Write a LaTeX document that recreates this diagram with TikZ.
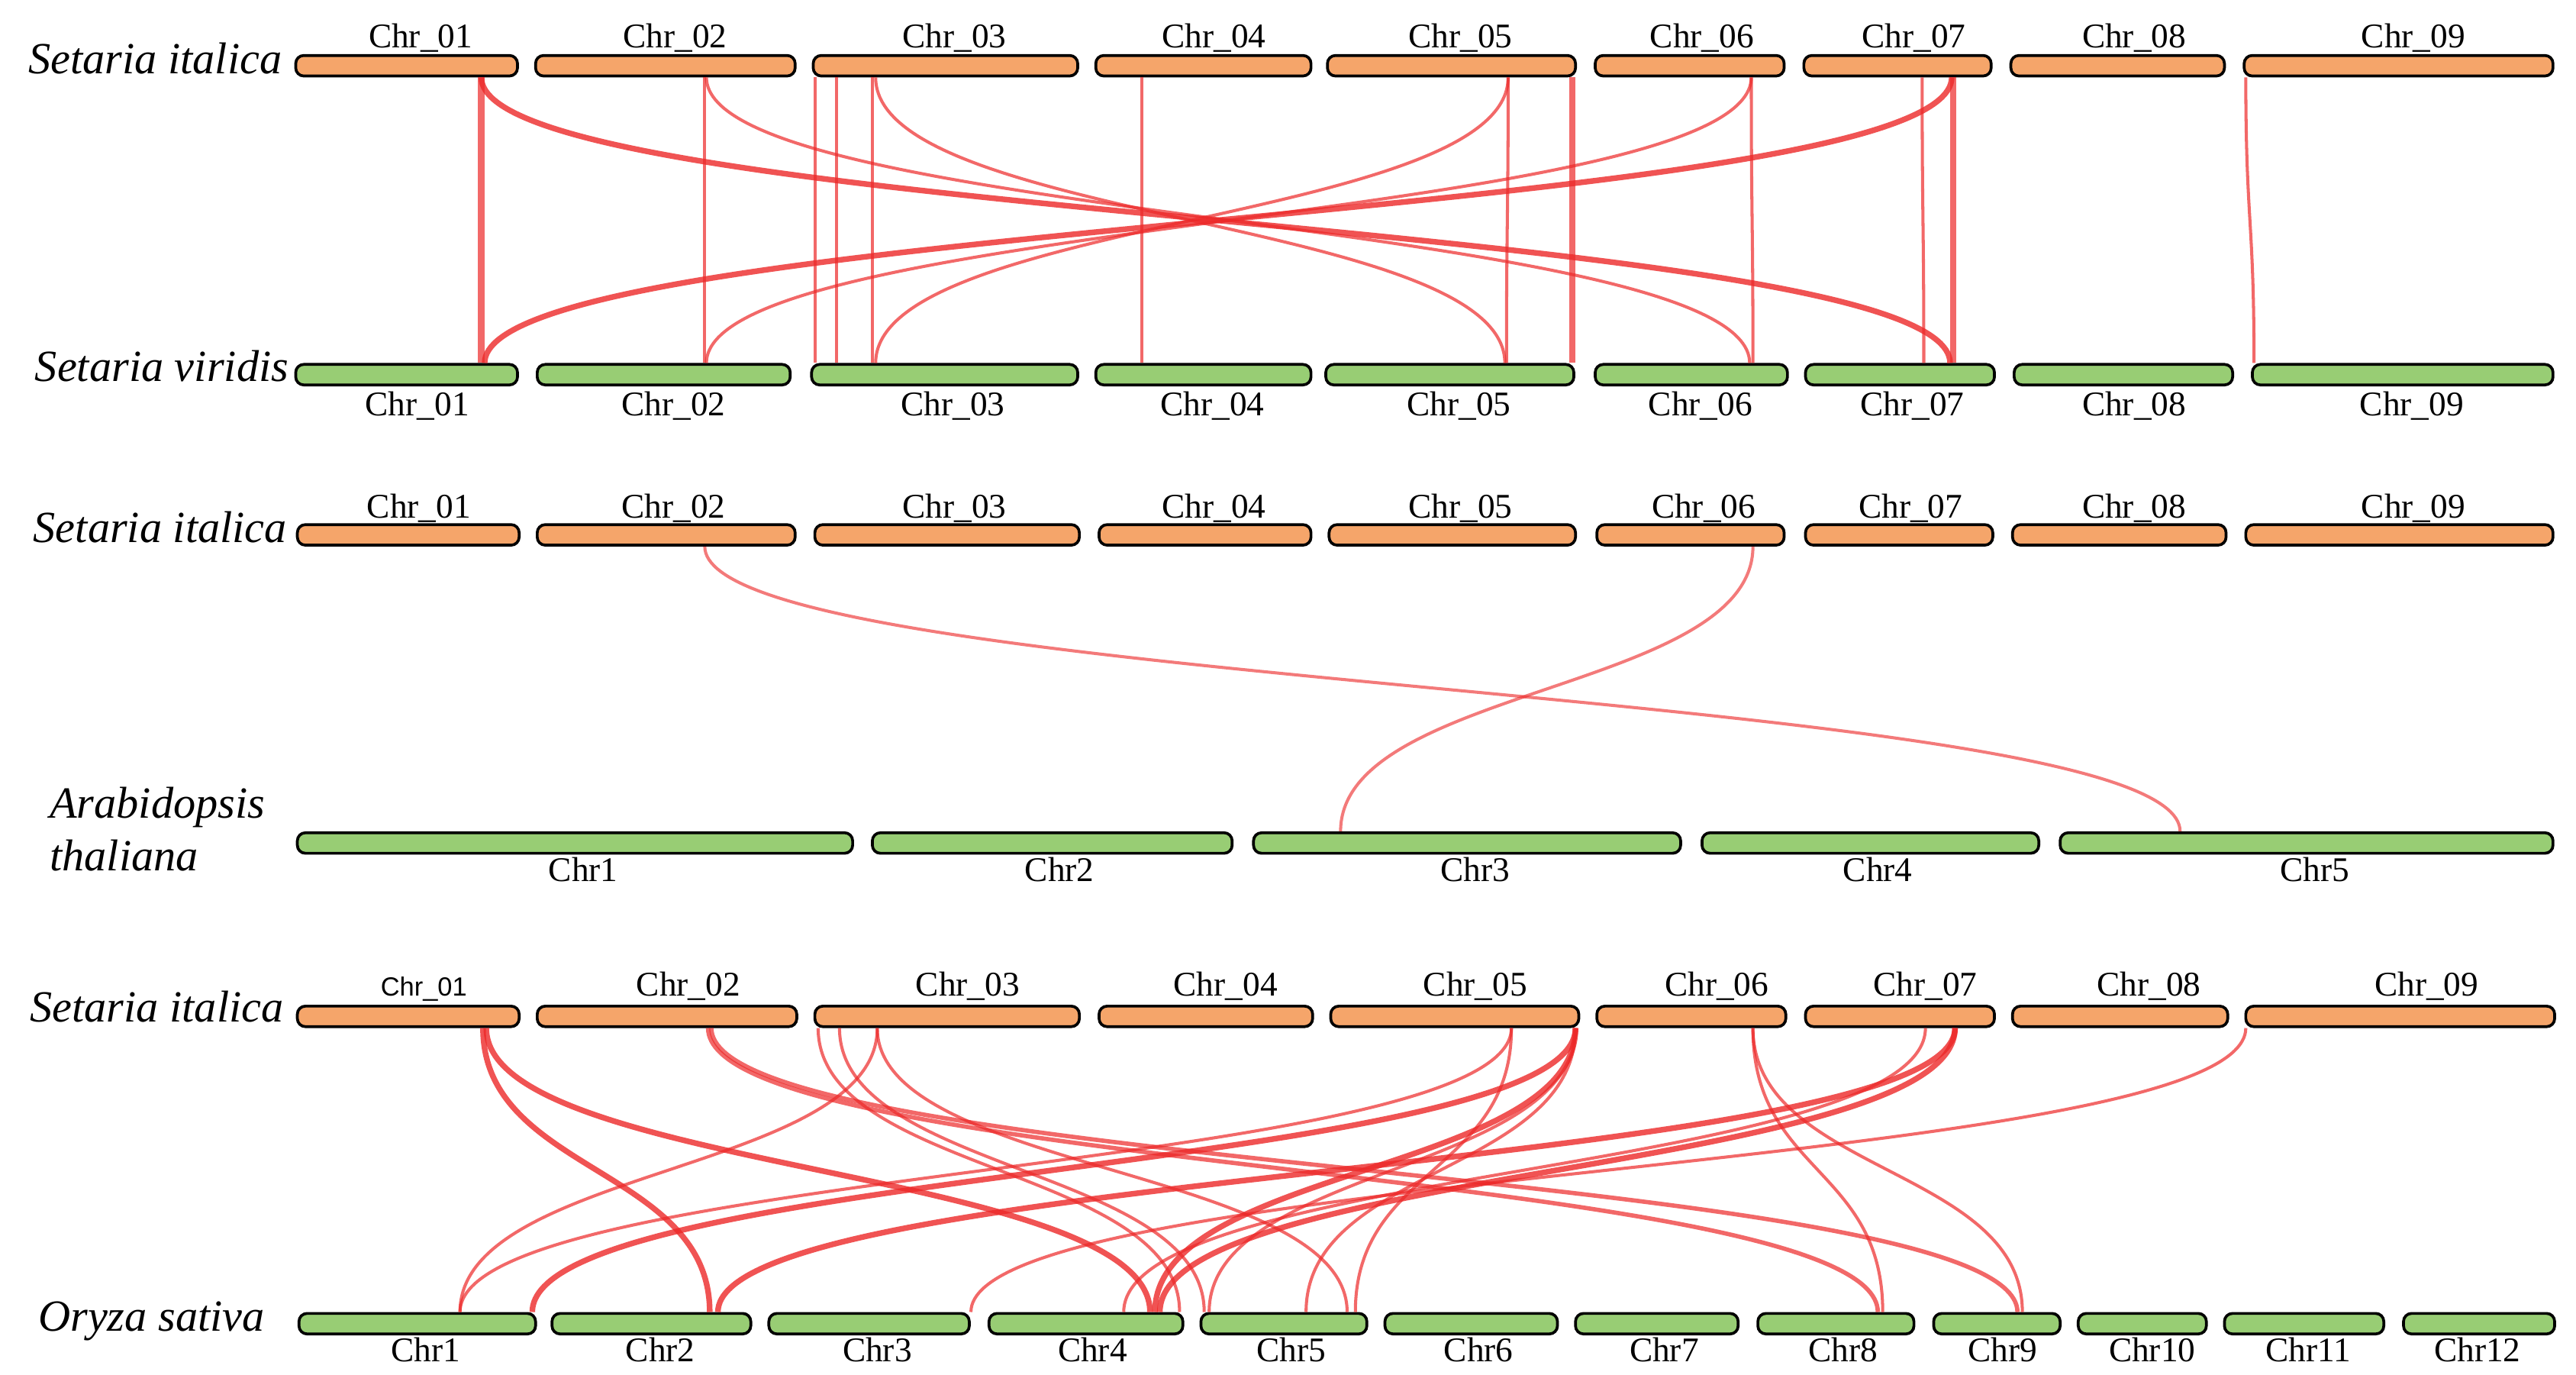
\documentclass[tikz,border=0pt]{standalone}
\usepackage{fontspec}
\setmainfont{Liberation Serif}
\newfontfamily\sansf{Liberation Sans}
\definecolor{orangeC}{RGB}{245,165,106}
\definecolor{greenC}{RGB}{152,205,116}
\definecolor{linkred}{RGB}{236,40,40}
\newcommand\chrm[5]{\node[#1, minimum width={(#4-#3)*0.021524cm}] (#2) at ({(#3+#4)/2},#5) {};}
\newcommand\lnk[5][]{\draw[lk,#1] (#3,0 |- #2.south) .. controls +(0,88) and +(0,-88) .. (#5,0 |- #4.north);}
\begin{document}
\begin{tikzpicture}[x=0.021524cm,y=-0.021524cm,
  chrbase/.style={draw=black, line width=1.05pt, rounded corners=3pt, inner sep=0pt, minimum height=7.65pt},
  chrO/.style={chrbase, fill=orangeC},
  chrG/.style={chrbase, fill=greenC},
  lbl/.style={font=\fontsize{12.9}{14}\selectfont, anchor=base, inner sep=0pt},
  lblsans/.style={font=\sansf\fontsize{9.8}{11}\selectfont, anchor=base, inner sep=0pt},
  sp/.style={font=\fontsize{16.6}{19}\selectfont\itshape, anchor=base west, inner sep=0pt},
  lk/.style={draw=linkred, draw opacity=0.7, line width=1.15pt},
  lkw/.style={line width=2.1pt, draw opacity=0.8},
  lkm/.style={line width=1.6pt}]
\useasboundingbox (0,0) rectangle (1568,836.7);

% ---------- band 1 ----------
\node[sp] (spA) at (17,45) {Setaria italica};
\node[sp] (spB) at (21,232) {Setaria viridis};
\chrm{chrO}{a1}{180}{315}{40}
\chrm{chrO}{a2}{326}{484}{40}
\chrm{chrO}{a3}{495}{656}{40}
\chrm{chrO}{a4}{667}{798}{40}
\chrm{chrO}{a5}{808}{959}{40}
\chrm{chrO}{a6}{971}{1086}{40}
\chrm{chrO}{a7}{1098}{1212}{40}
\chrm{chrO}{a8}{1224}{1354}{40}
\chrm{chrO}{a9}{1366}{1554}{40}
\chrm{chrG}{b1}{180}{315}{228}
\chrm{chrG}{b2}{327}{481}{228}
\chrm{chrG}{b3}{494}{656}{228}
\chrm{chrG}{b4}{667}{798}{228}
\chrm{chrG}{b5}{807}{958}{228}
\chrm{chrG}{b6}{971}{1088}{228}
\chrm{chrG}{b7}{1099}{1214}{228}
\chrm{chrG}{b8}{1226}{1359}{228}
\chrm{chrG}{b9}{1371}{1554}{228}
\node[lbl] (la1) at (256,29) {Chr\_01};
\node[lbl] (la2) at (411,29) {Chr\_02};
\node[lbl] (la3) at (581,29) {Chr\_03};
\node[lbl] (la4) at (739,29) {Chr\_04};
\node[lbl] (la5) at (889,29) {Chr\_05};
\node[lbl] (la6) at (1036,29) {Chr\_06};
\node[lbl] (la7) at (1165,29) {Chr\_07};
\node[lbl] (la8) at (1299,29) {Chr\_08};
\node[lbl] (la9) at (1469,29) {Chr\_09};
\node[lbl] (lb1) at (254,253) {Chr\_01};
\node[lbl] (lb2) at (410,253) {Chr\_02};
\node[lbl] (lb3) at (580,253) {Chr\_03};
\node[lbl] (lb4) at (738,253) {Chr\_04};
\node[lbl] (lb5) at (888,253) {Chr\_05};
\node[lbl] (lb6) at (1035,253) {Chr\_06};
\node[lbl] (lb7) at (1164,253) {Chr\_07};
\node[lbl] (lb8) at (1299,253) {Chr\_08};
\node[lbl] (lb9) at (1468,253) {Chr\_09};
\lnk{a1}{292}{b1}{292}
\lnk{a1}{294}{b1}{294}
\lnk[lkw]{a1}{293}{b7}{1187}
\lnk{a2}{429}{b2}{429}
\lnk{a2}{430}{b6}{1065}
\lnk{a3}{496}{b3}{496}
\lnk{a3}{509}{b3}{509}
\lnk{a3}{531}{b3}{531}
\lnk{a3}{533}{b5}{916}
\lnk{a4}{695}{b4}{695}
\lnk{a5}{918}{b3}{533}
\lnk{a5}{918}{b5}{917}
\lnk{a5}{956}{b5}{956}
\lnk{a5}{958}{b5}{958}
\lnk{a6}{1066}{b2}{430}
\lnk{a6}{1066}{b6}{1067}
\lnk{a7}{1170}{b7}{1171}
\lnk[lkw]{a7}{1188}{b1}{295}
\lnk{a7}{1188}{b7}{1188}
\lnk{a7}{1190}{b7}{1190}
\lnk{a9}{1367}{b9}{1372}

% ---------- band 2 ----------
\node[sp] (spC) at (20,330) {Setaria italica};
\node[sp] (spD) at (30,498) {Arabidopsis};
\node[sp] (spE) at (30,530) {thaliana};
\chrm{chrO}{c1}{181}{316}{325.5}
\chrm{chrO}{c2}{327}{484}{325.5}
\chrm{chrO}{c3}{496}{657}{325.5}
\chrm{chrO}{c4}{669}{798}{325.5}
\chrm{chrO}{c5}{809}{959}{325.5}
\chrm{chrO}{c6}{972}{1086}{325.5}
\chrm{chrO}{c7}{1099}{1213}{325.5}
\chrm{chrO}{c8}{1225}{1355}{325.5}
\chrm{chrO}{c9}{1367}{1554}{325.5}
\chrm{chrG}{d1}{181}{519}{513}
\chrm{chrG}{d2}{531}{750}{513}
\chrm{chrG}{d3}{763}{1023}{513}
\chrm{chrG}{d4}{1036}{1241}{513}
\chrm{chrG}{d5}{1254}{1554}{513}
\node[lbl] (lc1) at (255,315) {Chr\_01};
\node[lbl] (lc2) at (410,315) {Chr\_02};
\node[lbl] (lc3) at (581,315) {Chr\_03};
\node[lbl] (lc4) at (739,315) {Chr\_04};
\node[lbl] (lc5) at (889,315) {Chr\_05};
\node[lbl] (lc6) at (1037,315) {Chr\_06};
\node[lbl] (lc7) at (1163,315) {Chr\_07};
\node[lbl] (lc8) at (1299,315) {Chr\_08};
\node[lbl] (lc9) at (1469,315) {Chr\_09};
\node[lbl] (ld1) at (355,536.5) {Chr1};
\node[lbl] (ld2) at (645,536.5) {Chr2};
\node[lbl] (ld3) at (898,536.5) {Chr3};
\node[lbl] (ld4) at (1143,536.5) {Chr4};
\node[lbl] (ld5) at (1409,536.5) {Chr5};
\lnk[draw opacity=0.62]{c2}{429}{d5}{1327}
\lnk[draw opacity=0.62]{c6}{1067}{d3}{816}

% ---------- band 3 ----------
\node[sp] (spF) at (18,622) {Setaria italica};
\node[sp] (spG) at (23,810) {Oryza sativa};
\chrm{chrO}{e1}{181}{316}{618.5}
\chrm{chrO}{e2}{327}{485}{618.5}
\chrm{chrO}{e3}{496}{657}{618.5}
\chrm{chrO}{e4}{669}{799}{618.5}
\chrm{chrO}{e5}{810}{961}{618.5}
\chrm{chrO}{e6}{972}{1087}{618.5}
\chrm{chrO}{e7}{1099}{1214}{618.5}
\chrm{chrO}{e8}{1225}{1356}{618.5}
\chrm{chrO}{e9}{1367}{1555}{618.5}
\chrm{chrG}{f1}{182}{326}{805.5}
\chrm{chrG}{f2}{336}{457}{805.5}
\chrm{chrG}{f3}{468}{590}{805.5}
\chrm{chrG}{f4}{602}{720}{805.5}
\chrm{chrG}{f5}{731}{832}{805.5}
\chrm{chrG}{f6}{843}{948}{805.5}
\chrm{chrG}{f7}{959}{1058}{805.5}
\chrm{chrG}{f8}{1070}{1165}{805.5}
\chrm{chrG}{f9}{1177}{1254}{805.5}
\chrm{chrG}{f10}{1265}{1343}{805.5}
\chrm{chrG}{f11}{1354}{1451}{805.5}
\chrm{chrG}{f12}{1463}{1555}{805.5}
\node[lblsans] (le1) at (258,606) {Chr\_01};
\node[lbl] (le2) at (419,606) {Chr\_02};
\node[lbl] (le3) at (589,606) {Chr\_03};
\node[lbl] (le4) at (746,606) {Chr\_04};
\node[lbl] (le5) at (898,606) {Chr\_05};
\node[lbl] (le6) at (1045,606) {Chr\_06};
\node[lbl] (le7) at (1172,606) {Chr\_07};
\node[lbl] (le8) at (1308,606) {Chr\_08};
\node[lbl] (le9) at (1477,606) {Chr\_09};
\node[lbl] (lf1) at (259,828.5) {Chr1};
\node[lbl] (lf2) at (402,828.5) {Chr2};
\node[lbl] (lf3) at (534,828.5) {Chr3};
\node[lbl] (lf4) at (665,828.5) {Chr4};
\node[lbl] (lf5) at (786,828.5) {Chr5};
\node[lbl] (lf6) at (900,828.5) {Chr6};
\node[lbl] (lf7) at (1013,828.5) {Chr7};
\node[lbl] (lf8) at (1122,828.5) {Chr8};
\node[lbl] (lf9) at (1219,828.5) {Chr9};
\node[lbl] (lf10) at (1310,828.5) {Chr10};
\node[lbl] (lf11) at (1405,828.5) {Chr11};
\node[lbl] (lf12) at (1508,828.5) {Chr12};
\lnk[lkw]{e1}{294}{f2}{432}
\lnk[lkw]{e1}{296}{f4}{700}
\lnk[lkm]{e2}{431}{f8}{1143}
\lnk[lkm]{e2}{433}{f9}{1228}
\lnk{e3}{498}{f4}{718}
\lnk{e3}{511}{f5}{733}
\lnk{e3}{534}{f1}{280}
\lnk{e3}{534}{f5}{820}
\lnk{e5}{920}{f1}{280}
\lnk{e5}{920}{f5}{825}
\lnk[lkw]{e5}{959}{f1}{324}
\lnk[lkw]{e5}{959}{f4}{703}
\lnk{e5}{959}{f5}{736}
\lnk{e5}{959}{f5}{795}
\lnk{e6}{1067}{f8}{1146}
\lnk{e6}{1067}{f9}{1231}
\lnk{e7}{1172}{f4}{684}
\lnk[lkw]{e7}{1190}{f2}{437}
\lnk[lkw]{e7}{1190}{f4}{706}
\lnk{e9}{1367}{f3}{591}
\end{tikzpicture}
\end{document}
